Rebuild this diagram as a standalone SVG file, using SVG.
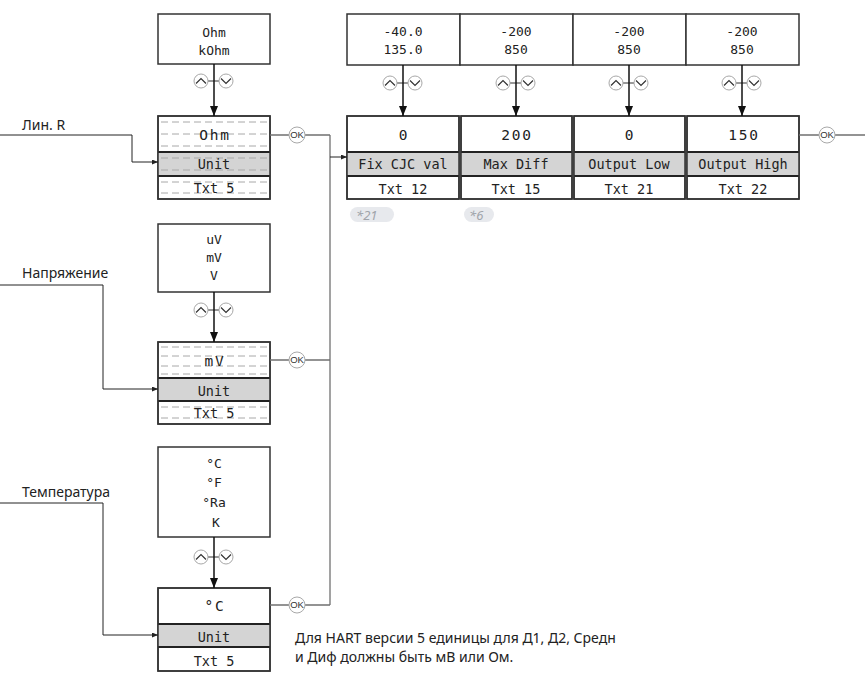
<svg xmlns="http://www.w3.org/2000/svg" xmlns:xlink="http://www.w3.org/1999/xlink" width="865" height="690" viewBox="0 0 865 690">
<style>
.box{fill:#fff;stroke:#333;stroke-width:1.5}
.frame{fill:none;stroke:#333;stroke-width:1.5}
.gray{fill:#d4d4d4;stroke:none}
.div{stroke:#222;stroke-width:2}
.dash{stroke:#a8a8a8;stroke-width:1;stroke-dasharray:7 4}
.m{font-family:"DejaVu Sans Mono","Liberation Mono",monospace;fill:#222;text-anchor:middle}
.opt{font-size:13px}
.val{font-size:14.5px;letter-spacing:1.8px}
.lbl{font-size:13.5px}
.s{font-family:"Noto Sans","Liberation Sans",sans-serif;font-size:14px;fill:#222}
.note{font-family:"Noto Sans","Liberation Sans",sans-serif;font-size:13px;font-style:italic;fill:#a0a4aa}
.pill{fill:#e7e9ed}
.arr{stroke:#111;stroke-width:1.5;fill:none}
.thin{stroke:#222;stroke-width:1;fill:none}
.okl{stroke:#707070;stroke-width:1.3;fill:none}
.btn{fill:#fff;stroke:#a8a8a8;stroke-width:1}
.chev{fill:none;stroke:#333;stroke-width:1.2}
.okc{fill:#fff;stroke:#a8a8a8;stroke-width:1}
.okt{font-family:"Liberation Sans",Arial,sans-serif;font-size:9.5px;fill:#333;text-anchor:middle}
</style>
<defs>
<marker id="ah" markerUnits="userSpaceOnUse" markerWidth="10" markerHeight="8" refX="10" refY="4" orient="auto"><path d="M0,0 L10,4 L0,8 z" fill="#111"/></marker>
<marker id="ahs" markerUnits="userSpaceOnUse" markerWidth="6" markerHeight="5" refX="6" refY="2.5" orient="auto"><path d="M0,0 L6,2.5 L0,5 z" fill="#222"/></marker>
<g id="btns">
<line x1="-6" y1="0" x2="5" y2="0" stroke="#333" stroke-width="1"/>
<circle class="btn" cx="-13" cy="0" r="7"/>
<path class="chev" d="M-18,2.5 L-13,-2.5 L-8,2.5"/>
<circle class="btn" cx="12" cy="0" r="7"/>
<path class="chev" d="M7,-2.5 L12,2.5 L17,-2.5"/>
</g>
<g id="ok">
<circle class="okc" cx="0" cy="0" r="8"/>
<text class="okt" x="0" y="3.4">OK</text>
</g>
</defs>

<!-- Left column -->
<g id="opt-ohm">
<rect class="box" x="158" y="14" width="112" height="50"/>
<text class="m opt" x="214" y="37">Ohm</text>
<text class="m opt" x="214" y="55">kOhm</text>
</g>
<g id="sel-ohm">
<rect class="box" x="158" y="116" width="112" height="83"/>
<rect class="gray" x="158" y="152" width="112" height="24"/>
<g class="dash">
<line x1="161" y1="122" x2="268" y2="122"/><line x1="161" y1="134" x2="268" y2="134"/><line x1="161" y1="146" x2="268" y2="146"/>
<line x1="161" y1="158" x2="268" y2="158"/><line x1="161" y1="170" x2="268" y2="170"/>
<line x1="161" y1="182" x2="268" y2="182"/><line x1="161" y1="193" x2="268" y2="193"/>
</g>
<line class="div" x1="158" y1="152" x2="270" y2="152"/>
<line class="div" x1="158" y1="176" x2="270" y2="176"/>
<rect class="frame" x="158" y="116" width="112" height="83"/>
<text class="m val" x="215" y="140">Ohm</text>
<text class="m lbl" x="214" y="169">Unit</text>
<text class="m lbl" x="214" y="193">Txt 5</text>
</g>

<g id="opt-v">
<rect class="box" x="158" y="224" width="112" height="68"/>
<text class="m opt" x="214" y="244">uV</text>
<text class="m opt" x="214" y="262">mV</text>
<text class="m opt" x="214" y="280">V</text>
</g>
<g id="sel-v">
<rect class="box" x="158" y="342" width="112" height="82"/>
<rect class="gray" x="158" y="378" width="112" height="23"/>
<g class="dash">
<line x1="161" y1="347" x2="268" y2="347"/><line x1="161" y1="356" x2="268" y2="356"/><line x1="161" y1="366" x2="268" y2="366"/><line x1="161" y1="374" x2="268" y2="374"/>
<line x1="161" y1="407" x2="268" y2="407"/><line x1="161" y1="418" x2="268" y2="418"/>
</g>
<line class="div" x1="158" y1="378" x2="270" y2="378"/>
<line class="div" x1="158" y1="401" x2="270" y2="401"/>
<rect class="frame" x="158" y="342" width="112" height="82"/>
<text class="m val" x="215" y="366">mV</text>
<text class="m lbl" x="214" y="396">Unit</text>
<text class="m lbl" x="214" y="418">Txt 5</text>
</g>

<g id="opt-t">
<rect class="box" x="158" y="447" width="112" height="90"/>
<text class="m opt" x="214" y="468">°C</text>
<text class="m opt" x="214" y="487">°F</text>
<text class="m opt" x="214" y="507">°Ra</text>
<text class="m opt" x="216" y="527">K</text>
</g>
<g id="sel-t">
<rect class="box" x="158" y="588" width="112" height="83"/>
<rect class="gray" x="158" y="624" width="112" height="23"/>
<line class="div" x1="158" y1="624" x2="270" y2="624"/>
<line class="div" x1="158" y1="647" x2="270" y2="647"/>
<rect class="frame" x="158" y="588" width="112" height="83"/>
<text class="m val" x="215" y="611">°C</text>
<text class="m lbl" x="214" y="642">Unit</text>
<text class="m lbl" x="214" y="666">Txt 5</text>
</g>

<!-- Top row -->
<g id="opt-cjc">
<rect class="box" x="347" y="14" width="113" height="51"/>
<text class="m opt" x="403" y="36">-40.0</text>
<text class="m opt" x="403" y="54">135.0</text>
</g>
<g id="opt-diff">
<rect class="box" x="460" y="14" width="113" height="51"/>
<text class="m opt" x="516" y="36">-200</text>
<text class="m opt" x="516" y="54">850</text>
</g>
<g id="opt-low">
<rect class="box" x="573" y="14" width="113" height="51"/>
<text class="m opt" x="629" y="36">-200</text>
<text class="m opt" x="629" y="54">850</text>
</g>
<g id="opt-high">
<rect class="box" x="686" y="14" width="113" height="51"/>
<text class="m opt" x="742" y="36">-200</text>
<text class="m opt" x="742" y="54">850</text>
</g>

<g id="sel-cjc">
<rect class="box" x="347" y="116" width="112" height="83"/>
<rect class="gray" x="347" y="152" width="112" height="24"/>
<line class="div" x1="347" y1="152" x2="459" y2="152"/>
<line class="div" x1="347" y1="176" x2="459" y2="176"/>
<rect class="frame" x="347" y="116" width="112" height="83"/>
<text class="m val" x="404" y="140">0</text>
<text class="m lbl" x="403" y="169">Fix CJC val</text>
<text class="m lbl" x="403" y="194">Txt 12</text>
</g>
<g id="sel-diff">
<rect class="box" x="461" y="116" width="111" height="83"/>
<rect class="gray" x="461" y="152" width="111" height="24"/>
<line class="div" x1="461" y1="152" x2="572" y2="152"/>
<line class="div" x1="461" y1="176" x2="572" y2="176"/>
<rect class="frame" x="461" y="116" width="111" height="83"/>
<text class="m val" x="517" y="140">200</text>
<text class="m lbl" x="516" y="169">Max Diff</text>
<text class="m lbl" x="516" y="194">Txt 15</text>
</g>
<g id="sel-low">
<rect class="box" x="574" y="116" width="111" height="83"/>
<rect class="gray" x="574" y="152" width="111" height="24"/>
<line class="div" x1="574" y1="152" x2="685" y2="152"/>
<line class="div" x1="574" y1="176" x2="685" y2="176"/>
<rect class="frame" x="574" y="116" width="111" height="83"/>
<text class="m val" x="630" y="140">0</text>
<text class="m lbl" x="629" y="169">Output Low</text>
<text class="m lbl" x="629" y="194">Txt 21</text>
</g>
<g id="sel-high">
<rect class="box" x="687" y="116" width="112" height="83"/>
<rect class="gray" x="687" y="152" width="112" height="24"/>
<line class="div" x1="687" y1="152" x2="799" y2="152"/>
<line class="div" x1="687" y1="176" x2="799" y2="176"/>
<rect class="frame" x="687" y="116" width="112" height="83"/>
<text class="m val" x="744" y="140">150</text>
<text class="m lbl" x="743" y="169">Output High</text>
<text class="m lbl" x="743" y="194">Txt 22</text>
</g>

<g id="notes">
<rect class="pill" x="350" y="207" width="44" height="15" rx="7.5"/>
<text class="note" x="356" y="219.5">*21</text>
<rect class="pill" x="464" y="207" width="30" height="15" rx="7.5"/>
<text class="note" x="469" y="219.5">*6</text>
</g>

<g id="labels">
<text class="s" x="22" y="130">Лин. R</text>
<text class="s" x="22" y="278">Напряжение</text>
<text class="s" x="22" y="497">Температура</text>
<text class="s" x="295" y="643">Для HART версии 5 единицы для Д1, Д2, Средн</text>
<text class="s" x="295" y="662">и Диф должны быть мВ или Ом.</text>
</g>

<g id="connectors">
<use xlink:href="#btns" href="#btns" x="214" y="81"/>
<use xlink:href="#btns" href="#btns" x="214" y="310"/>
<use xlink:href="#btns" href="#btns" x="214" y="557"/>
<use xlink:href="#btns" href="#btns" x="403" y="83"/>
<use xlink:href="#btns" href="#btns" x="516" y="83"/>
<use xlink:href="#btns" href="#btns" x="629" y="83"/>
<use xlink:href="#btns" href="#btns" x="742" y="83"/>
<line class="arr" x1="214" y1="64" x2="214" y2="116" marker-end="url(#ah)"/>
<line class="arr" x1="214" y1="292" x2="214" y2="342" marker-end="url(#ah)"/>
<line class="arr" x1="214" y1="537" x2="214" y2="588" marker-end="url(#ah)"/>
<line class="arr" x1="403" y1="65" x2="403" y2="116" marker-end="url(#ah)"/>
<line class="arr" x1="516" y1="65" x2="516" y2="116" marker-end="url(#ah)"/>
<line class="arr" x1="629" y1="65" x2="629" y2="116" marker-end="url(#ah)"/>
<line class="arr" x1="742" y1="65" x2="742" y2="116" marker-end="url(#ah)"/>
<path class="okl" d="M270,135 H289 M305,135 H330 M270,360 H289 M305,360 H330 M270,605 H289 M305,605 H330"/>
<path class="okl" d="M330,135 V605" stroke-width="1.6"/>
<path class="thin" d="M330,157 H347" marker-end="url(#ahs)"/>
<use xlink:href="#ok" href="#ok" x="297" y="135"/>
<use xlink:href="#ok" href="#ok" x="297" y="360"/>
<use xlink:href="#ok" href="#ok" x="297" y="605"/>
<path class="okl" d="M799,135 H819 M835,135 H865"/>
<use xlink:href="#ok" href="#ok" x="827" y="135"/>
<path class="thin" d="M0,135 H132 V162 H158" marker-end="url(#ahs)"/>
<path class="thin" d="M0,285 H103 V389 H158" marker-end="url(#ahs)"/>
<path class="thin" d="M0,503 H103 V635 H158" marker-end="url(#ahs)"/>
</g>
</svg>
